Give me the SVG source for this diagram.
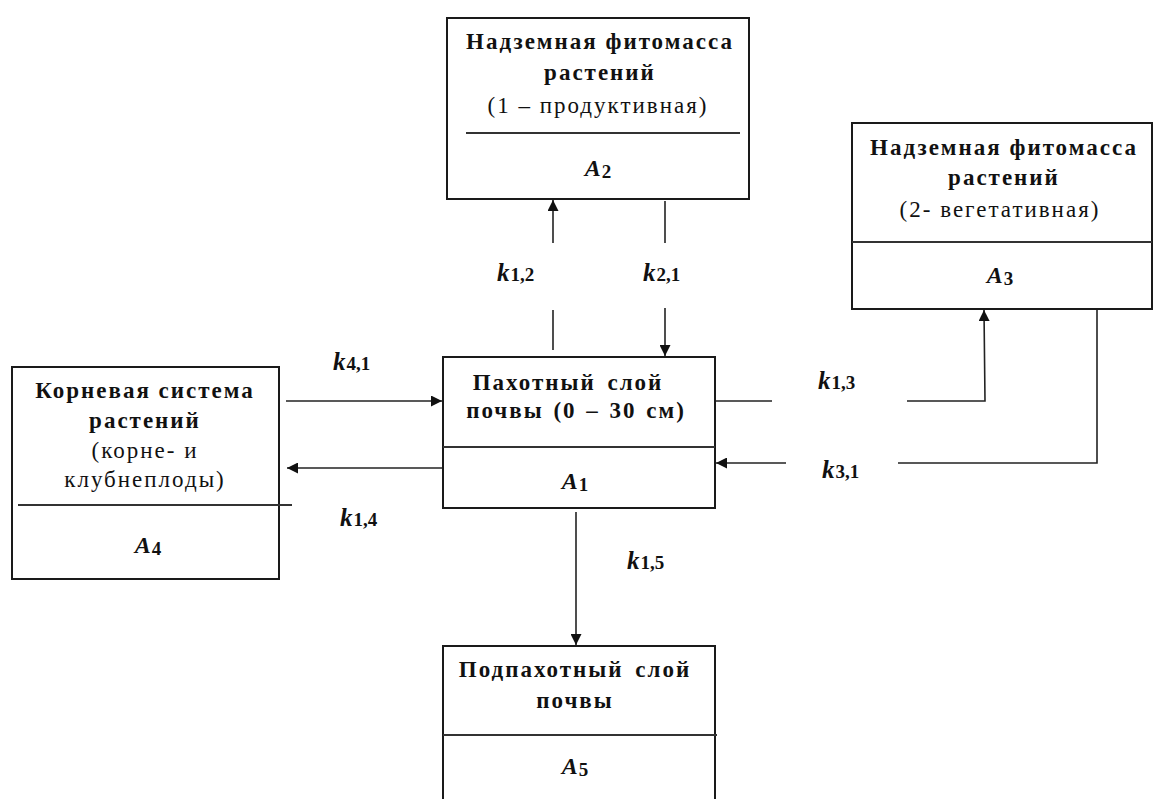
<svg xmlns="http://www.w3.org/2000/svg" width="1154" height="799" viewBox="0 0 1154 799">
<style>
.box{fill:#fff;stroke:#1a1a1a;stroke-width:2}
.sep{stroke:#333;stroke-width:2}
.ln{stroke:#222;stroke-width:1.6;fill:none}
text{font-family:"Liberation Serif","Times New Roman",serif;fill:#111;text-anchor:middle}
.b{font-weight:bold;font-size:23px;letter-spacing:2px}
.r{font-size:23px;letter-spacing:2px}
.a{font-weight:bold;font-style:italic;font-size:24px}
.k{font-weight:bold;font-style:italic;font-size:25px;text-anchor:start}
.s{font-style:normal;font-size:19px;font-weight:bold}
</style>
<defs>
<marker id="ar" viewBox="0 0 10 10" refX="10" refY="5" markerWidth="11" markerHeight="11" markerUnits="userSpaceOnUse" orient="auto">
<path d="M0,0 L10,5 L0,10 z" fill="#111"/>
</marker>
</defs>
<rect width="1154" height="799" fill="#fff"/>
<g id="connectors">
<line class="ln" x1="553" y1="243" x2="553" y2="200" marker-end="url(#ar)"/>
<line class="ln" x1="553" y1="350" x2="553" y2="310"/>
<line class="ln" x1="665" y1="201" x2="665" y2="243"/>
<line class="ln" x1="665" y1="308" x2="665" y2="356" marker-end="url(#ar)"/>
<line class="ln" x1="710" y1="401" x2="772" y2="401"/>
<polyline class="ln" points="907,401 985,401 984,310" marker-end="url(#ar)"/>
<polyline class="ln" points="1097,310 1097,463 898,463"/>
<line class="ln" x1="786" y1="463" x2="716" y2="463" marker-end="url(#ar)"/>
<line class="ln" x1="286" y1="401" x2="442" y2="401" marker-end="url(#ar)"/>
<line class="ln" x1="443" y1="468" x2="287" y2="468" marker-end="url(#ar)"/>
<line class="ln" x1="576" y1="512" x2="576" y2="645" marker-end="url(#ar)"/>
<text class="k" x="497" y="281">k<tspan class="s" dx="1">1,2</tspan></text>
<text class="k" x="643" y="281">k<tspan class="s" dx="1">2,1</tspan></text>
<text class="k" x="818" y="389">k<tspan class="s" dx="1">1,3</tspan></text>
<text class="k" x="822" y="478">k<tspan class="s" dx="1">3,1</tspan></text>
<text class="k" x="333" y="370">k<tspan class="s" dx="1">4,1</tspan></text>
<text class="k" x="340" y="526">k<tspan class="s" dx="1">1,4</tspan></text>
<text class="k" x="627" y="569">k<tspan class="s" dx="1">1,5</tspan></text>
</g>
<g id="A2">
<rect class="box" x="447" y="18" width="302" height="181"/>
<line class="sep" x1="466" y1="133" x2="740" y2="133"/>
<text class="b" x="600" y="49">Надземная фитомасса</text>
<text class="b" x="600" y="80">растений</text>
<text class="r" x="598" y="113">(1 – продуктивная)</text>
<text class="a" x="598" y="176">A<tspan class="s" dy="2" dx="1">2</tspan></text>
</g>
<g id="A3">
<rect class="box" x="852" y="123" width="300" height="186"/>
<line class="sep" x1="852" y1="242" x2="1152" y2="242"/>
<text class="b" x="1004" y="155">Надземная фитомасса</text>
<text class="b" x="1004" y="185">растений</text>
<text class="r" x="1000" y="217">(2- вегетативная)</text>
<text class="a" x="1000" y="283">A<tspan class="s" dy="2" dx="1">3</tspan></text>
</g>
<g id="A4">
<rect class="box" x="12" y="367" width="267" height="212"/>
<line class="sep" x1="18" y1="505" x2="292" y2="505"/>
<text class="b" x="145" y="398">Корневая система</text>
<text class="b" x="145" y="428">растений</text>
<text class="r" x="145" y="458">(корне- и</text>
<text class="r" x="145" y="487">клубнеплоды)</text>
<text class="a" x="148" y="553">A<tspan class="s" dy="2" dx="1">4</tspan></text>
</g>
<g id="A1">
<rect class="box" x="443" y="357" width="272" height="151"/>
<line class="sep" x1="443" y1="447" x2="715" y2="447"/>
<text class="b" x="568" y="390" word-spacing="4">Пахотный слой</text>
<text class="b" x="576" y="418" word-spacing="2">почвы  (0 – 30 см)</text>
<text class="a" x="575" y="489">A<tspan class="s" dy="2" dx="1">1</tspan></text>
</g>
<g id="A5">
<rect class="box" x="443" y="646" width="272" height="160"/>
<line class="sep" x1="443" y1="735" x2="717" y2="735"/>
<text class="b" x="575" y="677" word-spacing="4">Подпахотный слой</text>
<text class="b" x="575" y="708">почвы</text>
<text class="a" x="575" y="774">A<tspan class="s" dy="2" dx="1">5</tspan></text>
</g>
</svg>
